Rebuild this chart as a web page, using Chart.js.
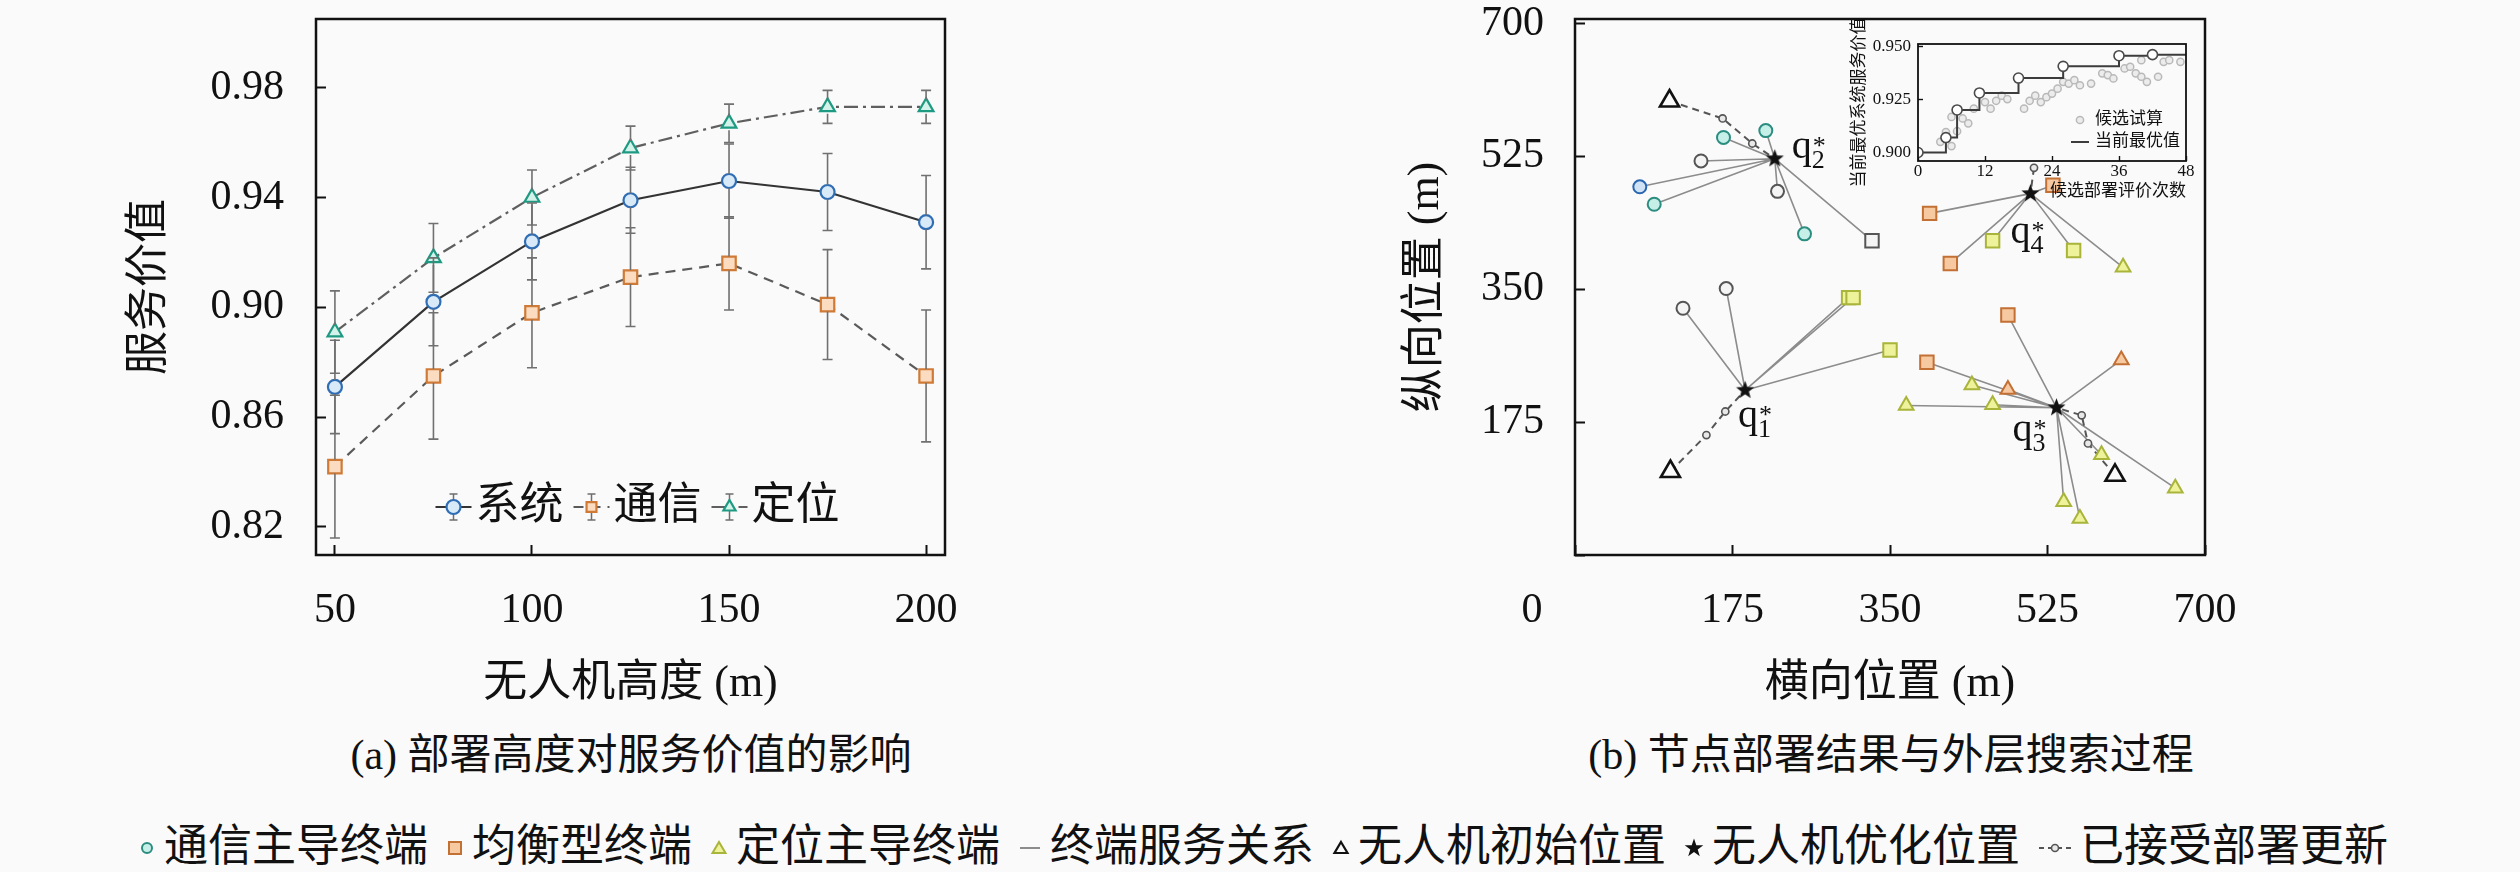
<!DOCTYPE html>
<html lang="zh">
<head>
<meta charset="utf-8">
<title>部署高度与节点部署结果</title>
<script src="https://cdn.jsdelivr.net/npm/chart.js@4.4.1/dist/chart.umd.min.js"></script>
<style>
  html, body { margin: 0; padding: 0; background: #fafafa; }
  #page { position: relative; width: 2520px; height: 872px; overflow: hidden; color: #111;
          font-family: "Liberation Serif", "Noto Sans CJK SC", serif; }
  canvas { position: absolute; }
  #heightChart { left: 0; top: 0; }
  #deployChart { left: 1380px; top: 0; }
  #searchChart { left: 1830px; top: 20px; }
  .caption { position: absolute; top: 730px; font-size: 42px; line-height: 50px; white-space: nowrap; transform: translateX(-50%); }
  #legend { position: absolute; left: 1263px; top: 822px; transform: translateX(-50%); display: flex; align-items: center;
            white-space: nowrap; font-size: 44px; line-height: 50px; }
  #legend .item { display: flex; align-items: center; margin: 0 9px; }
  #legend svg { margin-right: 8px; }
</style>
</head>
<body>
<div id="page">
  <canvas id="heightChart" width="1000" height="720"></canvas>
  <canvas id="deployChart" width="900" height="720"></canvas>
  <canvas id="searchChart" width="390" height="190"></canvas>
  <div class="caption" style="left:631px">(a) 部署高度对服务价值的影响</div>
  <div class="caption" style="left:1891px">(b) 节点部署结果与外层搜索过程</div>
  <div id="legend"></div>
</div>
<script>
// (a) service value vs. deployment height
const heights = [50, 75, 100, 125, 150, 175, 200];
const systemValue = [0.871, 0.902, 0.924, 0.939, 0.946, 0.942, 0.931];
const systemError = [0.017, 0.016, 0.014, 0.012, 0.0135, 0.014, 0.017];
const commValue = [0.842, 0.875, 0.898, 0.911, 0.916, 0.901, 0.875];
const commError = [0.026, 0.023, 0.020, 0.018, 0.017, 0.020, 0.024];
const locValue = [0.891, 0.918, 0.940, 0.958, 0.967, 0.973, 0.973];
const locError = [0.015, 0.0125, 0.010, 0.008, 0.007, 0.006, 0.006];
const seriesNames = ['系统', '通信', '定位'];
const heightTicks = [50, 100, 150, 200];
const valueTicks = [0.82, 0.86, 0.90, 0.94, 0.98];

// (b) deployment result, q1*..q4*
const posTicks = [0, 175, 350, 525, 700];
const uavX = [189, 222, 535, 506];
const uavY = [217, 522, 194, 476];
const startX = [106, 105, 600, null];
const startY = [110, 598, 105, null];
const stepX = [[146, 167], [164, 197], [570, 563], [510]];
const stepY = [[158, 189], [575, 542], [147, 184], [510]];

const commX = [165, 212, 140, 72, 88, 225, 255, 120, 168];
const commY = [550, 559, 519, 485, 462, 479, 423, 325, 351];
const commServer = [2, 2, 2, 2, 2, 2, 2, 1, 1];
const commShade = ['teal', 'teal', 'gray', 'blue', 'teal', 'gray', 'teal', 'gray', 'gray'];

const balX = [330, 304, 309, 350, 531, 394, 464, 417, 554, 481, 391];
const balY = [414, 339, 339, 270, 487, 450, 414, 384, 401, 316, 254];
const balServer = [2, 1, 1, 1, 4, 4, 4, 4, 4, 3, 3];
const balShade = ['gray', 'yellow', 'yellow', 'yellow', 'orange', 'orange', 'yellow', 'orange', 'yellow', 'orange', 'orange'];

const locX = [609, 607, 441, 481, 368, 464, 543, 561, 667, 585];
const locY = [379, 257, 224, 218, 197, 198, 70, 48, 88, 132];
const locServer = [4, 3, 3, 3, 3, 3, 3, 3, 3, 3];
const locShade = ['yellow', 'orange', 'yellow', 'orange', 'yellow', 'yellow', 'yellow', 'yellow', 'yellow', 'yellow'];

// inset: outer search process
const evalTicks = [0, 12, 24, 36, 48];
const bestTicks = [0.900, 0.925, 0.950];
const trialX = [0, 4, 5, 6, 6, 7, 8, 9, 10, 12, 13, 14, 15, 16, 19, 20, 21, 22, 23, 24, 25, 26, 27, 28, 29,
                31, 33, 34, 35, 37, 38, 39, 40, 40, 41, 43, 44, 45, 47];
const trialY = [0.8995, 0.905, 0.9096, 0.9167, 0.9030, 0.9100, 0.9160, 0.9137, 0.9206, 0.9237, 0.9206, 0.9243,
                0.9267, 0.9251, 0.9206, 0.9243, 0.9267, 0.9237, 0.9260, 0.9277, 0.9300, 0.9332, 0.9324, 0.9340,
                0.9316, 0.9324, 0.9372, 0.9364, 0.9348, 0.9395, 0.9403, 0.9372, 0.9434, 0.9356, 0.9332, 0.9356,
                0.9426, 0.9434, 0.9426];
const bestX = [0, 5, 7, 11, 18, 26, 36, 42, 48];
const bestY = [0.900, 0.907, 0.920, 0.928, 0.935, 0.9405, 0.9455, 0.946, 0.946];

const legendLabels = ['通信主导终端', '均衡型终端', '定位主导终端', '终端服务关系', '无人机初始位置', '无人机优化位置', '已接受部署更新'];

// ---------------------------------------------------------------
const serifStack = '"Liberation Serif", "Noto Sans CJK SC", serif';
Chart.defaults.font.family = serifStack;
Chart.defaults.color = '#111';

const shades = {
  teal:   { border: '#2b8c80', fill: '#c6efe8' },
  gray:   { border: '#555555', fill: '#f4f4f4' },
  blue:   { border: '#2a66b0', fill: '#cfe2f6' },
  orange: { border: '#c27034', fill: '#f7c9a1' },
  yellow: { border: '#a9b43a', fill: '#eef29a' }
};

const toPoints = (xs, ys) => xs.map((x, i) => ({ x, y: ys[i] }));
const gap = { x: null, y: null };

function makeAxis(o) {
  return {
    type: 'linear', min: o.min, max: o.max,
    afterBuildTicks: s => { s.ticks = o.ticks.map(v => ({ value: v })); },
    afterFit: s => {
      if (s.isHorizontal()) s.height = o.fit; else s.width = o.fit;
      // the frame sets the plot box, so label overhang must not shrink it
      s.paddingTop = s.paddingBottom = s.paddingLeft = s.paddingRight = 0;
    },
    ticks: { font: { size: o.size }, color: '#111', padding: o.pad, callback: o.fmt },
    grid: { drawOnChartArea: false, tickLength: -o.tick, tickColor: '#111', tickWidth: o.tickWidth || 2 },
    border: { display: false },
    title: { display: true, text: o.title, align: o.align || 'center', font: { size: o.titleSize }, color: '#111', padding: o.titlePad }
  };
}

function starImage(r) {
  const c = document.createElement('canvas');
  c.width = c.height = Math.ceil(2 * r + 4);
  const g = c.getContext('2d');
  const m = c.width / 2;
  g.beginPath();
  for (let k = 0; k < 10; k++) {
    const rad = k % 2 === 0 ? r : r * 0.42;
    const a = -Math.PI / 2 + k * Math.PI / 5;
    g.lineTo(m + rad * Math.cos(a), m + rad * Math.sin(a));
  }
  g.closePath();
  g.fillStyle = '#111';
  g.fill();
  return c;
}

// plugins
const framePlugin = {
  id: 'frame',
  beforeDraw(chart, args, o) {
    if (!o.fill) return;
    const { ctx, chartArea: a } = chart;
    ctx.save();
    ctx.fillStyle = o.fill;
    ctx.fillRect(a.left, a.top, a.right - a.left, a.bottom - a.top);
    ctx.restore();
  },
  afterDraw(chart, args, o) {
    const { ctx, chartArea: a } = chart;
    ctx.save();
    ctx.strokeStyle = '#111';
    ctx.lineWidth = o.width;
    ctx.strokeRect(a.left, a.top, a.right - a.left, a.bottom - a.top);
    ctx.restore();
  }
};

const errorBarPlugin = {
  id: 'errorBars',
  afterDatasetsDraw(chart, args, o) {
    const { ctx, scales: { x, y } } = chart;
    ctx.save();
    ctx.strokeStyle = o.color;
    ctx.lineWidth = o.width;
    chart.data.datasets.forEach(ds => {
      if (!ds.errors) return;
      ds.data.forEach((p, i) => {
        const px = x.getPixelForValue(p.x);
        const top = y.getPixelForValue(p.y + ds.errors[i]);
        const bot = y.getPixelForValue(p.y - ds.errors[i]);
        const mid = y.getPixelForValue(p.y);
        ctx.beginPath();
        ctx.moveTo(px, top); ctx.lineTo(px, mid - o.gapR);
        ctx.moveTo(px, mid + o.gapR); ctx.lineTo(px, bot);
        ctx.moveTo(px - o.cap, top); ctx.lineTo(px + o.cap, top);
        ctx.moveTo(px - o.cap, bot); ctx.lineTo(px + o.cap, bot);
        ctx.stroke();
      });
    });
    ctx.restore();
  }
};

function drawSymbol(ctx, d, cx, cy, o) {
  const half = o.symbol / 2;
  if (d.showLine !== false && d.borderWidth) {
    ctx.save();
    ctx.strokeStyle = d.borderColor;
    ctx.lineWidth = d.borderWidth;
    ctx.setLineDash(d.legendDash || d.borderDash || []);
    ctx.beginPath(); ctx.moveTo(cx - half, cy); ctx.lineTo(cx + half, cy); ctx.stroke();
    ctx.restore();
  }
  if (d.errors) {
    ctx.save();
    ctx.strokeStyle = '#6e6e6e'; ctx.lineWidth = 1.5;
    ctx.beginPath();
    ctx.moveTo(cx, cy - o.err); ctx.lineTo(cx, cy + o.err);
    ctx.moveTo(cx - 4, cy - o.err); ctx.lineTo(cx + 4, cy - o.err);
    ctx.moveTo(cx - 4, cy + o.err); ctx.lineTo(cx + 4, cy + o.err);
    ctx.stroke();
    ctx.restore();
  }
  if (d.legendMarker !== false) {
    ctx.save();
    ctx.strokeStyle = d.pointBorderColor;
    ctx.fillStyle = d.pointBackgroundColor;
    ctx.lineWidth = d.pointBorderWidth;
    Chart.helpers.drawPoint(ctx, { pointStyle: d.pointStyle, radius: o.radius, borderWidth: d.pointBorderWidth, rotation: 0 }, cx, cy);
    ctx.restore();
  }
}

const innerLegendPlugin = {
  id: 'innerLegend',
  afterDatasetsDraw(chart, args, o) {
    if (!o.mode) return;
    const { ctx, chartArea: a } = chart;
    const items = chart.data.datasets.filter(d => d.label);
    ctx.save();
    ctx.font = `${o.size}px ${serifStack}`;
    ctx.textBaseline = 'middle';
    const widths = items.map(d => ctx.measureText(d.label).width);
    let x, y;
    if (o.mode === 'row') {
      const total = widths.reduce((s, w) => s + o.symbol + o.gap + w, 0) + o.itemGap * (items.length - 1);
      x = (a.left + a.right) / 2 - total / 2 + o.shift;
      y = a.bottom - o.lift;
    } else {
      x = a.right - o.fromRight;
      y = a.bottom - o.lift - o.rowGap * (items.length - 1);
    }
    items.forEach((d, i) => {
      drawSymbol(ctx, d, x + o.symbol / 2, y, o);
      ctx.fillStyle = '#111';
      ctx.fillText(d.label, x + o.symbol + o.gap, y);
      if (o.mode === 'row') x += o.symbol + o.gap + widths[i] + o.itemGap;
      else y += o.rowGap;
    });
    ctx.restore();
  }
};

const starLabelPlugin = {
  id: 'starLabels',
  afterDatasetsDraw(chart, args, o) {
    if (!o.offsets) return;
    const { ctx, scales: { x, y } } = chart;
    ctx.save();
    ctx.fillStyle = '#111';
    ctx.textBaseline = 'alphabetic';
    uavX.forEach((ux, i) => {
      const px = x.getPixelForValue(ux) + o.offsets[i][0];
      const py = y.getPixelForValue(uavY[i]) + o.offsets[i][1];
      ctx.font = `${o.size}px ${serifStack}`;
      ctx.fillText('q', px, py);
      const w = ctx.measureText('q').width;
      ctx.font = `${o.subSize}px ${serifStack}`;
      ctx.fillText(String(i + 1), px + w, py + 10);
      ctx.fillText('*', px + w + 1, py - 4);
    });
    ctx.restore();
  }
};

const originLabelPlugin = {
  id: 'originLabel',
  afterDraw(chart, args, o) {
    if (!o.text) return;
    const { ctx, scales: { x }, chartArea: a } = chart;
    ctx.save();
    ctx.font = `${o.size}px ${serifStack}`;
    ctx.fillStyle = '#111';
    ctx.textAlign = 'center';
    ctx.textBaseline = 'middle';
    ctx.fillText(o.text, x.getPixelForValue(0) - o.dx, a.bottom + o.dy);
    ctx.restore();
  }
};

// ---------------------------------------------------------------
// (a)
const heightSeries = [
  { values: systemValue, errors: systemError, line: '#333333', dash: [], style: 'circle', r: 7, color: '#2f6db5', fill: '#d8e9f8' },
  { values: commValue, errors: commError, line: '#5a5a5a', dash: [10, 7], style: 'rect', r: 9.5, color: '#cf7a36', fill: '#fbdcc0' },
  { values: locValue, errors: locError, line: '#5f5f5f', dash: [14, 5, 3, 5], style: 'triangle', r: 8.5, color: '#1f9a82', fill: '#d3f2ea' }
];

new Chart(document.getElementById('heightChart'), {
  type: 'line',
  data: {
    datasets: heightSeries.map((s, k) => ({
      label: seriesNames[k],
      data: toPoints(heights, s.values),
      errors: s.errors,
      borderColor: s.line,
      borderWidth: 2.2,
      borderDash: s.dash,
      pointStyle: s.style,
      pointRadius: s.r,
      pointBorderColor: s.color,
      pointBackgroundColor: s.fill,
      pointBorderWidth: 2.2
    }))
  },
  options: {
    responsive: false,
    animation: false,
    layout: { padding: { left: 0, top: 19, right: 55, bottom: 0 } },
    plugins: {
      legend: { display: false },
      tooltip: { enabled: false },
      frame: { width: 2.5 },
      errorBars: { color: '#707070', width: 1.6, cap: 5, gapR: 7 },
      innerLegend: { mode: 'row', size: 44, symbol: 36, gap: 4, itemGap: 10, shift: 7, lift: 48, radius: 7, err: 13 }
    },
    scales: {
      x: makeAxis({ min: 45.2, max: 204.8, ticks: heightTicks, fit: 165, size: 42, pad: 41, tick: 10,
                    fmt: v => String(v), title: '无人机高度 (m)', titleSize: 44, titlePad: { top: 0, bottom: 9 } }),
      y: makeAxis({ min: 0.8098, max: 1.005, ticks: valueTicks, fit: 316, size: 42, pad: 42, tick: 10,
                    fmt: v => v.toFixed(2), title: '服务价值', titleSize: 44, titlePad: { top: 124, bottom: 0 } })
    }
  },
  plugins: [framePlugin, errorBarPlugin, innerLegendPlugin]
});

// (b)
function linkPoints(xs, ys, server) {
  const pts = [];
  xs.forEach((x, i) => {
    const s = server[i] - 1;
    pts.push({ x: uavX[s], y: uavY[s] }, { x, y: ys[i] }, gap);
  });
  return pts;
}
const links = [...linkPoints(commX, commY, commServer), ...linkPoints(balX, balY, balServer), ...linkPoints(locX, locY, locServer)];

const paths = [];
uavX.forEach((ux, i) => {
  if (startX[i] !== null) paths.push({ x: startX[i], y: startY[i] });
  stepX[i].forEach((sx, j) => paths.push({ x: sx, y: stepY[i][j] }));
  paths.push({ x: ux, y: uavY[i] }, gap);
});

const terminalSet = (label, xs, ys, shade, style, r) => ({
  label, data: toPoints(xs, ys), pointStyle: style, pointRadius: r, pointBorderWidth: 2,
  pointBorderColor: shade.map(t => shades[t].border),
  pointBackgroundColor: shade.map(t => shades[t].fill),
  order: 2
});

new Chart(document.getElementById('deployChart'), {
  type: 'scatter',
  data: {
    datasets: [
      { label: '终端服务关系', data: links, showLine: true, borderColor: '#8c8c8c', borderWidth: 1.6, pointRadius: 0, order: 6 },
      { label: '已接受部署更新', data: paths, showLine: true, borderColor: '#555555', borderWidth: 2, borderDash: [7, 5], pointRadius: 0, order: 5 },
      { label: '部署更新点', data: stepX.flatMap((xs, i) => toPoints(xs, stepY[i])), pointRadius: 3.6,
        pointBorderColor: '#555555', pointBackgroundColor: '#e8e8e8', pointBorderWidth: 1.6, order: 3 },
      terminalSet('通信主导终端', commX, commY, commShade, 'circle', 6.5),
      terminalSet('均衡型终端', balX, balY, balShade, 'rect', 9.5),
      terminalSet('定位主导终端', locX, locY, locShade, 'triangle', 8.5),
      { label: '无人机初始位置', data: toPoints(startX.filter(v => v !== null), startY.filter(v => v !== null)),
        pointStyle: 'triangle', pointRadius: 11, pointBorderColor: '#111111', pointBackgroundColor: '#fafafa', pointBorderWidth: 2.6, order: 1 },
      { label: '无人机优化位置', data: toPoints(uavX, uavY), pointStyle: starImage(9.5), pointRadius: 10, order: 0 }
    ]
  },
  options: {
    responsive: false,
    animation: false,
    layout: { padding: { left: 0, top: 19, right: 75, bottom: 0 } },
    plugins: {
      legend: { display: false },
      tooltip: { enabled: false },
      frame: { width: 2.5 },
      starLabels: { offsets: [[-7, 37], [17, -1], [-44, 33], [-20, 49]], size: 40, subSize: 26 },
      originLabel: { text: '0', size: 42, dx: 43, dy: 56 }
    },
    scales: {
      x: makeAxis({ min: 0, max: 700, ticks: posTicks, fit: 165, size: 42, pad: 41, tick: 10,
                    fmt: v => (v === 0 ? '' : String(v)), title: '横向位置 (m)', titleSize: 44, titlePad: { top: 0, bottom: 9 } }),
      y: makeAxis({ min: 0, max: 706, ticks: posTicks, fit: 195, size: 42, pad: 41, tick: 10,
                    fmt: v => (v === 0 ? '' : String(v)), title: '纵向位置 (m)', titleSize: 44, titlePad: { top: 20, bottom: 0 } })
    }
  },
  plugins: [framePlugin, starLabelPlugin, originLabelPlugin]
});

// inset
new Chart(document.getElementById('searchChart'), {
  type: 'scatter',
  data: {
    datasets: [
      { label: '候选试算', data: toPoints(trialX, trialY), pointRadius: 3.6, pointBorderColor: '#b9b9b9',
        pointBackgroundColor: '#ececec', pointBorderWidth: 1.5, order: 2 },
      { label: '当前最优值', data: toPoints(bestX, bestY), showLine: true, stepped: true, borderColor: '#3c3c3c', borderWidth: 2,
        pointRadius: bestX.map((v, i) => (i === bestX.length - 1 ? 0 : 5)), pointBorderColor: '#4a4a4a',
        pointBackgroundColor: '#ffffff', pointBorderWidth: 1.6, legendMarker: false, order: 1 }
    ]
  },
  options: {
    responsive: false,
    animation: false,
    layout: { padding: { left: 0, top: 24, right: 34, bottom: 0 } },
    plugins: {
      legend: { display: false },
      tooltip: { enabled: false },
      frame: { width: 1.8, fill: '#fafafa' },
      innerLegend: { mode: 'column', size: 17, symbol: 18, gap: 6, fromRight: 115, lift: 19, rowGap: 22, radius: 3.6 }
    },
    scales: {
      x: makeAxis({ min: 0, max: 48, ticks: evalTicks, fit: 49, size: 17, pad: 5, tick: 5, tickWidth: 1.4,
                    fmt: v => String(v), title: '候选部署评价次数', align: 'end', titleSize: 17, titlePad: { top: 0, bottom: 8 } }),
      y: makeAxis({ min: 0.896, max: 0.951, ticks: bestTicks, fit: 88, size: 17, pad: 12, tick: 5, tickWidth: 1.4,
                    fmt: v => v.toFixed(3), title: '当前最优系统服务价值', titleSize: 17, titlePad: { top: 19, bottom: 0 } })
    }
  },
  plugins: [framePlugin, innerLegendPlugin]
});

// shared legend under both panels
const legendIcons = [
  '<svg width="18" height="24"><circle cx="9" cy="13" r="5" fill="#c6efe8" stroke="#2b8c80" stroke-width="2"/></svg>',
  '<svg width="18" height="24"><rect x="3" y="7" width="12" height="12" fill="#f7c9a1" stroke="#c27034" stroke-width="2"/></svg>',
  '<svg width="18" height="24"><path d="M9 7 L15.5 18 L2.5 18 Z" fill="#eef29a" stroke="#a9b43a" stroke-width="2"/></svg>',
  '<svg width="24" height="24"><line x1="2" y1="13" x2="22" y2="13" stroke="#8c8c8c" stroke-width="2"/></svg>',
  '<svg width="18" height="24"><path d="M9 7 L15.5 18 L2.5 18 Z" fill="none" stroke="#111" stroke-width="2.2"/></svg>',
  '<svg width="20" height="24"><path d="M10 3.5 L12.3 10.2 L19.3 10.3 L13.7 14.5 L15.8 21.2 L10 17.1 L4.2 21.2 L6.3 14.5 L0.7 10.3 L7.7 10.2 Z" fill="#111"/></svg>',
  '<svg width="34" height="24"><line x1="1" y1="13" x2="33" y2="13" stroke="#555" stroke-width="2" stroke-dasharray="5 4"/><circle cx="17" cy="13" r="3.5" fill="#e8e8e8" stroke="#555" stroke-width="1.6"/></svg>'
];
document.getElementById('legend').innerHTML =
  legendLabels.map((t, i) => `<span class="item">${legendIcons[i]}${t}</span>`).join('');
</script>
</body>
</html>
